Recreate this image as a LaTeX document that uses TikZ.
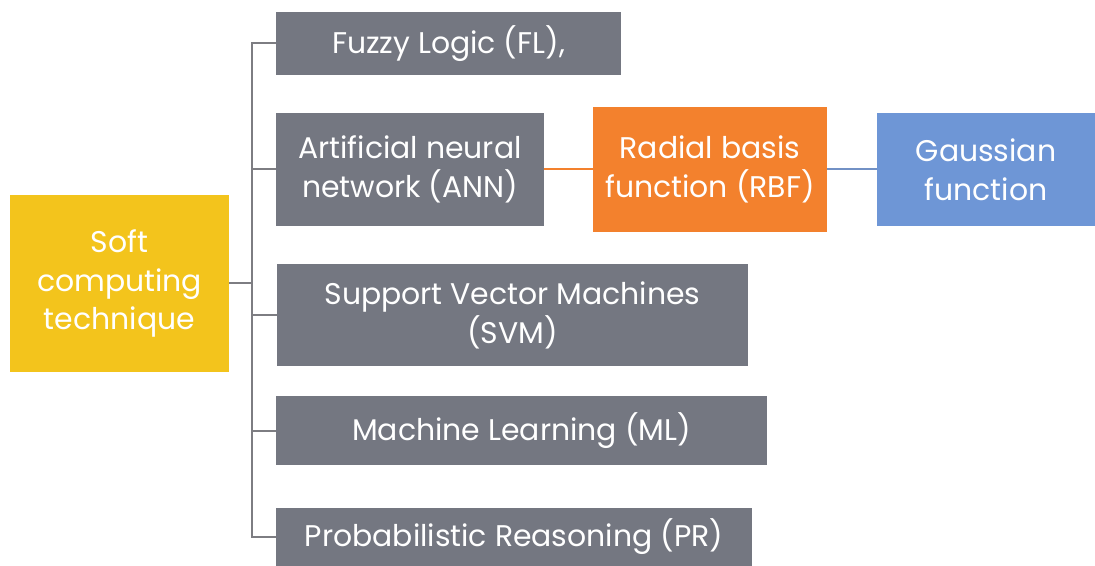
\documentclass[tikz,border=0pt]{standalone}
\usepackage{fontspec}
\setmainfont{Poppins}
\definecolor{softyellow}{RGB}{243,196,28}
\definecolor{boxgray}{RGB}{116,119,129}
\definecolor{rbforange}{RGB}{243,129,45}
\definecolor{gaussblue}{RGB}{110,150,214}
\definecolor{linkgray}{RGB}{125,125,130}
\tikzset{
  box/.style={fill=boxgray, text=white, align=center, inner sep=0pt,
    font=\fontsize{30}{39}\selectfont},
  link/.style={draw=linkgray, line width=2bp}
}
\begin{document}
\begin{tikzpicture}[x=1bp,y=-1bp]
  \useasboundingbox (0,0) rectangle (1095,566);
  \node[box, fill=softyellow, minimum width=219bp, minimum height=177bp]
    (soft) at (119.5,283.5) {Soft\\computing\\technique};
  \node[box, minimum width=345bp, minimum height=63bp]
    (fl) at (448.5,43.5) {Fuzzy Logic (FL),};
  \node[box, minimum width=268bp, minimum height=113bp]
    (ann) at (410,169.5) {Artificial neural\\network (ANN)};
  \node[box, fill=rbforange, minimum width=234bp, minimum height=125bp]
    (rbf) at (710,169.5) {Radial basis\\function (RBF)};
  \node[box, fill=gaussblue, minimum width=218bp, minimum height=113bp]
    (gauss) at (986,169.5) {Gaussian\\function};
  \node[box, minimum width=471bp, minimum height=102bp]
    (svm) at (512.5,315) {Support Vector Machines\\(SVM)};
  \node[box, minimum width=491bp, minimum height=69bp]
    (ml) at (521.5,430.5) {Machine Learning (ML)};
  \node[box, minimum width=476bp, minimum height=58bp]
    (pr) at (514,537) {Probabilistic Reasoning (PR)};
  % tree connectors
  \coordinate (trunk) at (252,283.5);
  \draw[link] (soft.east) -- (trunk);
  \foreach \n in {fl,ann,svm,ml,pr}
    \draw[link] (trunk) |- (\n.west);
  % chain to the right
  \draw[link, draw=rbforange] (ann.east) -- (rbf.west);
  \draw[link, draw=gaussblue!80!gray] (rbf.east) -- (gauss.west);
\end{tikzpicture}
\end{document}
